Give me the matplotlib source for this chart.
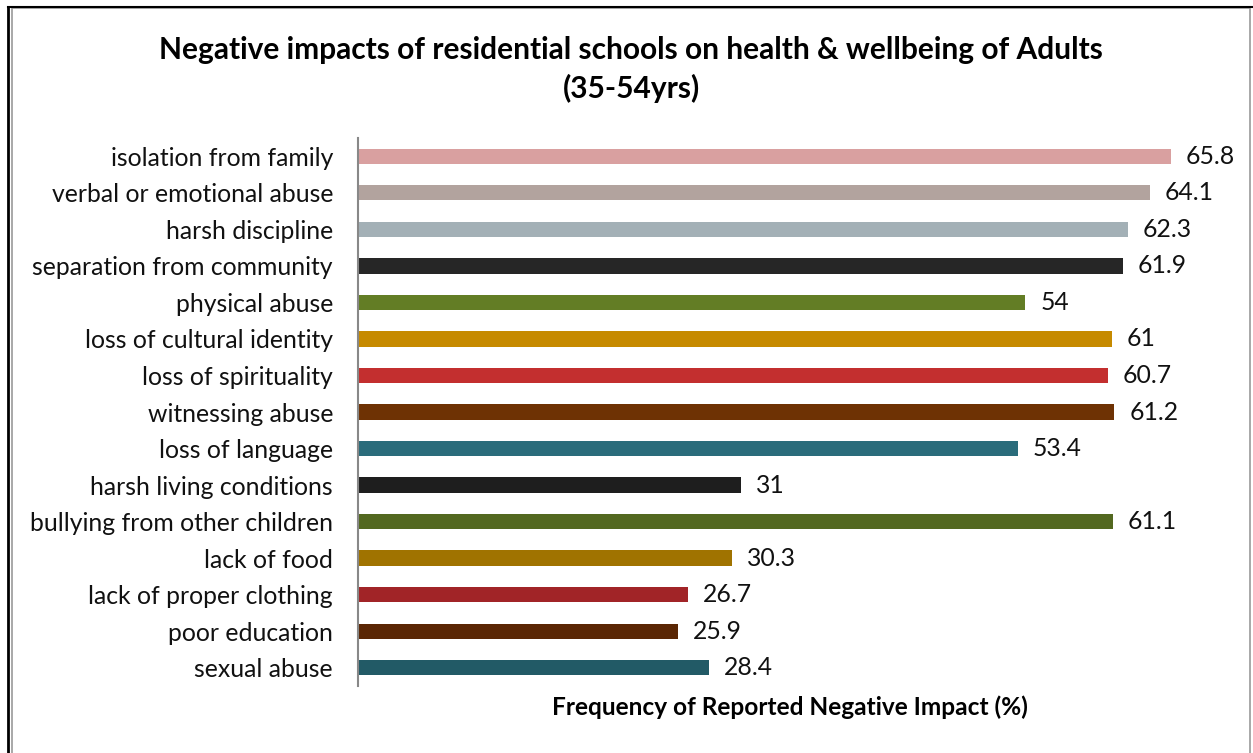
import matplotlib
matplotlib.use("Agg")
import matplotlib.pyplot as plt
from matplotlib.patches import Rectangle
from matplotlib.lines import Line2D

categories = [
    "isolation from family",
    "verbal or emotional abuse",
    "harsh discipline",
    "separation from community",
    "physical abuse",
    "loss of cultural identity",
    "loss of spirituality",
    "witnessing abuse",
    "loss of language",
    "harsh living conditions",
    "bullying from other children",
    "lack of food",
    "lack of proper clothing",
    "poor education",
    "sexual abuse",
]
values = [65.8, 64.1, 62.3, 61.9, 54, 61, 60.7, 61.2, 53.4, 31, 61.1, 30.3, 26.7, 25.9, 28.4]
labels = ["65.8", "64.1", "62.3", "61.9", "54", "61", "60.7", "61.2", "53.4", "31", "61.1", "30.3", "26.7", "25.9", "28.4"]
colors = ["#D9A0A0", "#B2A39E", "#A3B0B6", "#262626", "#637D25", "#C68A00", "#C32F2F",
          "#6E3204", "#2A6C7B", "#1E1E1E", "#536820", "#A07300", "#A12427", "#5A2604", "#225A66"]

plt.rcParams['font.family'] = ['Lato', 'DejaVu Sans']

W, H = 1253, 753
fig = plt.figure(figsize=(W / 100, H / 100), dpi=100)
ax = fig.add_axes([358 / W, 1 - 686 / H, (1223 - 358) / W, (686 - 138) / H])

y = list(range(len(categories)))
ax.barh(y, values, height=0.42, color=colors)
ax.set_ylim(len(categories) - 0.5, -0.5)
ax.set_xlim(0, 70)
ax.set_yticks(y)
ax.set_yticklabels(categories, fontsize=17.8, color="#111111")
ax.tick_params(axis="y", length=0, pad=18)
ax.set_xticks([])
for s in ["top", "right", "bottom"]:
    ax.spines[s].set_visible(False)
ax.spines["left"].set_color("#888888")
ax.spines["left"].set_linewidth(1.5)

for yi, v, lab in zip(y, values, labels):
    ax.annotate(lab, (v, yi), xytext=(15, 0), textcoords="offset pixels",
                va="center", ha="left", fontsize=17.8, color="#111111")

fig.text(790 / W, 1 - 707 / H, "Frequency of Reported Negative Impact (%)",
         ha="center", va="center", fontsize=17.6, fontweight="bold")

fig.text(631 / W, 1 - 50 / H, "Negative impacts of residential schools on health & wellbeing of Adults",
         ha="center", va="center", fontsize=21.5, fontweight="bold")
fig.text(631 / W, 1 - 88 / H, "(35-54yrs)", ha="center", va="center", fontsize=21.5, fontweight="bold")

# frame
fig.add_artist(Rectangle((11.5 / W, -0.05), (1250 - 11.5) / W, 1.05 - 8.5 / H,
                         transform=fig.transFigure, fill=False, edgecolor="#999999", linewidth=1.2))
fig.add_artist(Line2D([7.5 / W, 7.5 / W], [0, 1 - 6.5 / H], transform=fig.transFigure,
                      color="black", linewidth=2))
fig.add_artist(Line2D([7.5 / W, 1252 / W], [1 - 6.5 / H, 1 - 6.5 / H], transform=fig.transFigure,
                      color="black", linewidth=1.5))

fig.savefig("out.png", dpi=100)
